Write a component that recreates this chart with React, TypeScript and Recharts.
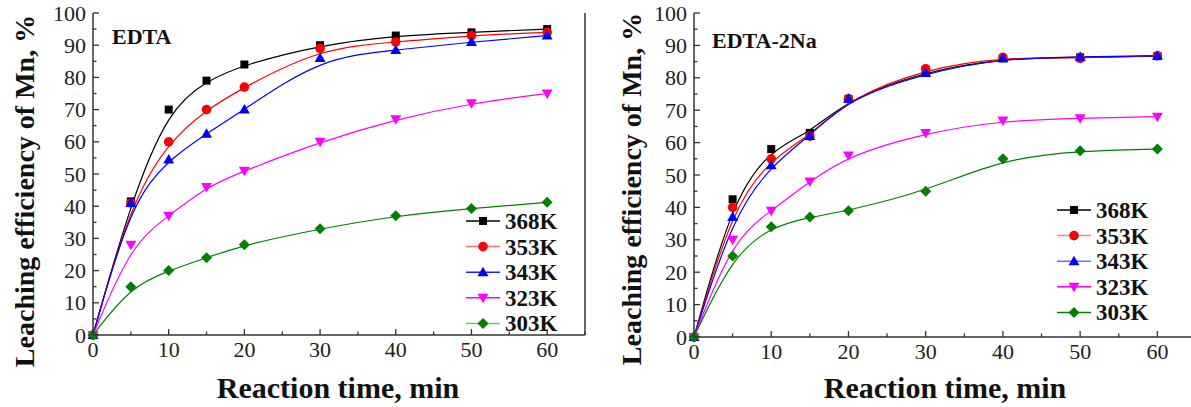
import React from 'react';
import { LineChart, Line, XAxis, YAxis, ReferenceLine } from 'recharts';

// reaction time, min
const times = [0, 5, 10, 15, 20, 30, 40, 50, 60];
const seriesNames = ['368K', '353K', '343K', '323K', '303K'];

// EDTA panel, leaching efficiency %
const edta368 = [0, 41.5, 70, 79, 84, 90, 93, 94, 95];
const edta353 = [0, 41, 60, 70, 77, 89, 91, 93, 94];
const edta343 = [0, 41, 54.5, 62.5, 70, 86, 88.5, 91, 93];
const edta323 = [0, 28, 37, 46, 51, 60, 67, 72, 75];
const edta303 = [0, 15, 20, 24, 28, 33, 37, 39.3, 41.2];

// EDTA-2Na panel
const na368 = [0, 42.5, 58, 63, 73.5, 82, 86, 86.3, 86.7];
const na353 = [0, 40, 55, 62, 73.5, 82.8, 86.3, 86, 86.8];
const na343 = [0, 37, 53, 62, 73.5, 81.5, 86, 86.5, 86.8];
const na323 = [0, 30, 39, 48, 56, 63, 66.8, 67.5, 68];
const na303 = [0, 25, 34, 37, 39, 45, 55, 57.5, 58];

const xTicks = [0, 5, 10, 15, 20, 25, 30, 35, 40, 45, 50, 55, 60, 65];
const yTicks = [0, 5, 10, 15, 20, 25, 30, 35, 40, 45, 50, 55, 60, 65, 70, 75, 80, 85, 90, 95, 100];

const FONT = "'Liberation Serif', serif";
const AXIS = '#333';
const colors = ['#000000', '#ff0000', '#0000ff', '#ff00ff', '#008000'];
const shapes = ['square', 'circle', 'up', 'down', 'diamond'];

function buildRows(cols: number[][]) {
  return times.map((t, i) => {
    const row: Record<string, number> = { t };
    seriesNames.forEach((n, j) => {
      row[n] = cols[j][i];
    });
    return row;
  });
}

const edtaData = buildRows([edta368, edta353, edta343, edta323, edta303]);
const naData = buildRows([na368, na353, na343, na323, na303]);

function Marker({ shape, cx, cy, color }: { shape: string; cx: number; cy: number; color: string }) {
  if (cx == null || cy == null) return null;
  if (shape === 'square') return <rect x={cx - 4} y={cy - 4} width={8} height={8} fill={color} />;
  if (shape === 'circle') return <circle cx={cx} cy={cy} r={4.8} fill={color} />;
  if (shape === 'up')
    return <polygon points={`${cx},${cy - 5.5} ${cx + 5.5},${cy + 4} ${cx - 5.5},${cy + 4}`} fill={color} />;
  if (shape === 'down')
    return <polygon points={`${cx - 5.5},${cy - 4} ${cx + 5.5},${cy - 4} ${cx},${cy + 5.5}`} fill={color} />;
  return <polygon points={`${cx},${cy - 5.5} ${cx + 5.5},${cy} ${cx},${cy + 5.5} ${cx - 5.5},${cy}`} fill={color} />;
}

const YTick = (props: any) => {
  const { x, y, payload } = props;
  const major = payload.value % 10 === 0;
  return (
    <g>
      <line x1={x} x2={x + (major ? 6 : 3.5)} y1={y} y2={y} stroke={AXIS} strokeWidth={1.3} />
      {major && (
        <text x={x - 7} y={y + 7.5} textAnchor="end" fontSize={22} fontFamily={FONT} fill="#222">
          {payload.value}
        </text>
      )}
    </g>
  );
};

const XTick = (props: any) => {
  const { x, y, payload } = props;
  const major = payload.value % 10 === 0;
  return (
    <g>
      <line x1={x} x2={x} y1={y} y2={y - (major ? 6 : 3.5)} stroke={AXIS} strokeWidth={1.3} />
      {major && payload.value <= 60 && (
        <text x={x} y={y + 22} textAnchor="middle" fontSize={22} fontFamily={FONT} fill="#222">
          {payload.value}
        </text>
      )}
    </g>
  );
};

const TopTick = (props: any) => {
  const { x, y, payload } = props;
  const major = payload.value % 10 === 0;
  return <line x1={x} x2={x} y1={y} y2={y + (major ? 6 : 3.5)} stroke={AXIS} strokeWidth={1.3} />;
};

function Panel({ data, xAxisHeight, panel }: { data: any[]; xAxisHeight: number; panel: string }) {
  return (
    <LineChart width={600} height={407} data={data} margin={{ top: 13, right: panel === 'a' ? 15 : 5, bottom: 0, left: 0 }}>
      <XAxis
        dataKey="t"
        type="number"
        domain={[0, 65]}
        ticks={xTicks}
        interval={0}
        height={xAxisHeight}
        tickSize={0}
        tickMargin={0}
        tickLine={false}
        tick={<XTick />}
        axisLine={{ stroke: AXIS, strokeWidth: 1.5 }}
      />
      <XAxis
        xAxisId="top"
        orientation="top"
        type="number"
        domain={[0, 65]}
        ticks={xTicks}
        interval={0}
        height={0}
        tickSize={0}
        tickMargin={0}
        tickLine={false}
        tick={<TopTick />}
        axisLine={{ stroke: AXIS, strokeWidth: 1.5 }}
      />
      <YAxis
        type="number"
        domain={[0, 100]}
        ticks={yTicks}
        interval={0}
        width={93}
        tickSize={0}
        tickMargin={0}
        tickLine={false}
        tick={<YTick />}
        axisLine={{ stroke: AXIS, strokeWidth: 1.5 }}
      />
      <ReferenceLine x={65} stroke={AXIS} strokeWidth={1.5} />
      {seriesNames.map((name, j) => (
        <Line
          key={name}
          dataKey={name}
          type="basis"
          stroke={colors[j]}
          strokeWidth={1.2}
          isAnimationActive={false}
          dot={(p: any) => (
            <Marker key={`${panel}-${name}-${p.index}`} shape={shapes[j]} cx={p.cx} cy={p.cy} color={colors[j]} />
          )}
          activeDot={false}
        />
      ))}
    </LineChart>
  );
}

function LegendBox({ x0, y0, lineColors }: { x0: number; y0: number; lineColors: string[] }) {
  return (
    <g>
      {seriesNames.map((name, j) => {
        const y = y0 + j * 25.6;
        return (
          <g key={name}>
            <line x1={x0} x2={x0 + 34} y1={y} y2={y} stroke={lineColors[j]} strokeWidth={1.5} />
            <Marker shape={shapes[j]} cx={x0 + 17} cy={y} color={colors[j]} />
            <text x={x0 + 39} y={y + 8} fontSize={23} fontWeight="bold" fontFamily={FONT} fill="#111">
              {name}
            </text>
          </g>
        );
      })}
    </g>
  );
}

export default function App() {
  return (
    <div style={{ position: 'absolute', left: 0, top: 0, width: 1191, height: 407, overflow: 'hidden', background: '#fff' }}>
      <div style={{ position: 'absolute', left: 0, top: 0 }}>
        <Panel data={edtaData} xAxisHeight={72} panel="a" />
      </div>
      <div style={{ position: 'absolute', left: 601, top: 0 }}>
        <Panel data={naData} xAxisHeight={70} panel="b" />
      </div>
      <svg width={1191} height={407} style={{ position: 'absolute', left: 0, top: 0, pointerEvents: 'none' }}>
        <g fontFamily={FONT} fontWeight="bold" fill="#111">
          <text transform="translate(34,191) rotate(-90)" textAnchor="middle" fontSize={28}>
            Leaching efficiency of Mn, %
          </text>
          <text transform="translate(641,189) rotate(-90)" textAnchor="middle" fontSize={28}>
            Leaching efficiency of Mn, %
          </text>
          <text x={338} y={398} textAnchor="middle" fontSize={30}>
            Reaction time, min
          </text>
          <text x={945} y={398} textAnchor="middle" fontSize={30}>
            Reaction time, min
          </text>
          <text x={112} y={44} fontSize={22}>
            EDTA
          </text>
          <text x={712} y={48} fontSize={22}>
            EDTA-2Na
          </text>
        </g>
        <LegendBox x0={466} y0={221} lineColors={['#000000', '#ff7070', '#2020ff', '#ff00ff', '#6fbf6f']} />
        <LegendBox x0={1057} y0={210} lineColors={['#000000', '#ff8080', '#7070ff', '#ff00ff', '#008000']} />
      </svg>
    </div>
  );
}
